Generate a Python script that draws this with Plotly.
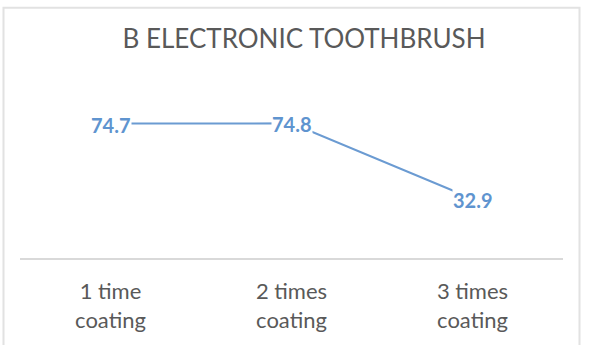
import plotly.graph_objects as go

categories = ["1 time<br>coating", "2 times<br>coating", "3 times<br>coating"]
values = [74.7, 74.8, 32.9]
value_labels = ["74.7", "74.8", "32.9"]
title_text = "B ELECTRONIC TOOTHBRUSH"

W, H = 589, 345
L, R, T, B = 20, 26, 114, 84
pw, ph = W - L - R, H - T - B

def px_to_paper_x(px):
    return (px - L) / pw

def py_to_paper_y(py):
    return (H - B - py) / ph

blue = "#6b9bd2"
label_blue = "#5f94cf"

fig = go.Figure()
fig.add_trace(go.Scatter(
    x=categories, y=values, mode="lines",
    line=dict(color=blue, width=2),
    hoverinfo="skip", showlegend=False,
))

for c, v, t in zip(categories, values, value_labels):
    fig.add_annotation(
        x=c, y=v, xref="x", yref="y", text="<b>" + t + "</b>",
        showarrow=False, bgcolor="white", borderpad=0, yshift=-1,
        font=dict(family="Lato", size=20, color=label_blue),
    )

fig.add_shape(
    type="rect", xref="paper", yref="paper",
    x0=px_to_paper_x(3.5), x1=px_to_paper_x(579.5),
    y0=py_to_paper_y(360), y1=py_to_paper_y(5.5),
    line=dict(color="#e2e2e2", width=2), fillcolor="rgba(0,0,0,0)", layer="below",
)

fig.update_layout(
    width=W, height=H,
    margin=dict(l=L, r=R, t=T, b=B, pad=0),
    paper_bgcolor="white", plot_bgcolor="white",
    title=dict(
        text=title_text, x=304 / W, xref="container", xanchor="center",
        y=1 - 39 / H, yref="container", yanchor="middle",
        font=dict(family="Lato", size=26, color="#595959"),
    ),
    xaxis=dict(
        type="category", range=[-0.5, 2.5], showgrid=False, zeroline=False,
        showline=True, linecolor="#d9d9d9", linewidth=1.5, ticks="",
        ticklabelstandoff=13,
        tickfont=dict(family="Lato", size=22, color="#595959"),
        fixedrange=True,
    ),
    yaxis=dict(
        range=[0, 80], showgrid=False, zeroline=False, showline=False,
        showticklabels=False, ticks="", fixedrange=True,
    ),
)

fig.write_html("out.html")
